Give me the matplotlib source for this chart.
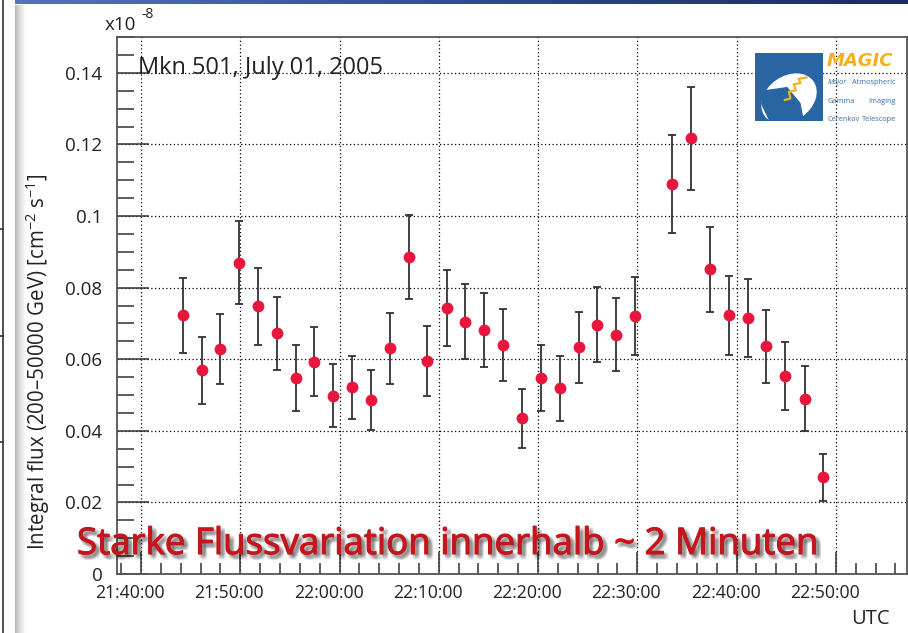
import numpy as np
import pandas as pd
import matplotlib
matplotlib.use("Agg")
import matplotlib.pyplot as plt
import matplotlib.dates as mdates
import matplotlib.patheffects as pe
import matplotlib.transforms as mtrans
from matplotlib.patches import Rectangle, Ellipse, Polygon
from matplotlib.ticker import MultipleLocator, FuncFormatter

# ---------------- data ----------------
times = ["21:44:12", "21:46:06", "21:47:58", "21:49:54", "21:51:45", "21:53:40",
         "21:55:36", "21:57:27", "21:59:22", "22:01:17", "22:03:12", "22:05:04",
         "22:06:59", "22:08:50", "22:10:48", "22:12:40", "22:14:34", "22:16:30",
         "22:18:24", "22:20:18", "22:22:10", "22:24:05", "22:25:59", "22:27:52",
         "22:29:47", "22:33:30", "22:35:24", "22:37:18", "22:39:12", "22:41:06",
         "22:43:00", "22:44:54", "22:46:54", "22:48:42"]
flux = [0.0723, 0.0569, 0.0628, 0.0869, 0.0748, 0.0672, 0.0547, 0.0593, 0.0498,
        0.0522, 0.0486, 0.0631, 0.0885, 0.0595, 0.0743, 0.0705, 0.0682, 0.0640,
        0.0435, 0.0548, 0.0519, 0.0633, 0.0696, 0.0668, 0.0721, 0.1089, 0.1217,
        0.0851, 0.0723, 0.0714, 0.0636, 0.0554, 0.0490, 0.0270]
flux_err = [0.0105, 0.0093, 0.0097, 0.0116, 0.0107, 0.0103, 0.0093, 0.0097, 0.0088,
            0.0088, 0.0085, 0.0099, 0.0118, 0.0097, 0.0107, 0.0105, 0.0104, 0.0100,
            0.0083, 0.0092, 0.0091, 0.0099, 0.0105, 0.0102, 0.0108, 0.0136, 0.0144,
            0.0119, 0.0110, 0.0109, 0.0102, 0.0095, 0.0091, 0.0066]
title_text = "Mkn 501, July 01, 2005"
banner_text = "Starke Flussvariation innerhalb ~ 2 Minuten"
ylabel_text = "Integral flux (200\u201350000 GeV) [cm$^{-2}$ s$^{-1}$]"
x_start, x_end = "21:37:35", "22:57:10"
logo_lines = [("Major", "Atmospheric"), ("Gamma", "Imaging"), ("Cerenkov", "Telescope")]

# ---------------- style ----------------
plt.rcParams['font.family'] = ['Open Sans', 'DejaVu Sans']
plt.rcParams['mathtext.fontset'] = 'custom'
plt.rcParams['mathtext.rm'] = 'Open Sans'
plt.rcParams['mathtext.it'] = 'Open Sans'

day = "2005-07-01 "
t = pd.to_datetime([day + s for s in times])
xl = pd.to_datetime([day + x_start, day + x_end])

W, H = 908, 633
fig = plt.figure(figsize=(W / 100, H / 100), dpi=100)
fig.patch.set_facecolor("white")

def fx(px):
    return px / W

def fy(py):
    return 1 - py / H

# decorations: top blue bar, left slide edge
bar = fig.add_axes([fx(15), fy(4.5), 1 - fx(15), 4.5 / H])
bar.imshow(np.linspace(0, 1, 256)[None, :], aspect='auto',
           cmap=matplotlib.colors.LinearSegmentedColormap.from_list(
               "b", ["#5574b8", "#2f4d92", "#1b2b5c"]), extent=[0, 1, 0, 1])
bar.axis('off')
shade = fig.add_axes([fx(15), 0, 11 / W, fy(4.5)])
shade.imshow(np.linspace(0, 1, 64)[None, :] ** 0.7, aspect='auto',
             cmap=matplotlib.colors.LinearSegmentedColormap.from_list(
                 "g", ["#b0b0b0", "#ffffff"]), extent=[0, 1, 0, 1])
shade.axis('off')
fig.add_artist(plt.Line2D([fx(3), fx(3)], [0, 1], color="#333333", lw=1.2))
for yy in [229, 336, 442]:
    fig.add_artist(plt.Line2D([0, fx(3)], [fy(yy), fy(yy)], color="#333333", lw=1.2))

# main axes
ax = fig.add_axes([fx(117), fy(574), fx(907) - fx(117), fy(37) - fy(574)])
ax.set_xlim(xl[0], xl[1])
ax.set_ylim(0, 0.15)

ax.errorbar(t, flux, yerr=flux_err, fmt='none', ecolor="#333333",
            elinewidth=1.3, capsize=2.6, capthick=1.3, zorder=3)
ax.plot(t, flux, 'o', color="#e8163c", markersize=8.5, markeredgewidth=0, zorder=4)

ax.xaxis.set_major_locator(mdates.MinuteLocator(byminute=range(0, 60, 10)))
ax.xaxis.set_minor_locator(mdates.MinuteLocator(byminute=range(0, 60, 2)))
ax.xaxis.set_major_formatter(mdates.DateFormatter("%H:%M:%S"))
ax.yaxis.set_major_locator(MultipleLocator(0.02))
ax.yaxis.set_minor_locator(MultipleLocator(0.005))
ax.yaxis.set_major_formatter(FuncFormatter(lambda v, p: "%g" % round(v, 4)))

ax.grid(True, which='major', color='black', linestyle=(0, (1, 2)), linewidth=0.9)
ax.set_axisbelow(True)
ax.tick_params(axis='both', which='major', direction='in', width=1.1,
               color="#333333", top=False, right=False)
ax.tick_params(axis='both', which='minor', direction='in', width=1.1,
               color="#333333", top=False, right=False)
ax.tick_params(axis='x', which='major', length=16)
ax.tick_params(axis='x', which='minor', length=8)
ax.tick_params(axis='y', which='major', length=23)
ax.tick_params(axis='y', which='minor', length=12)
ax.tick_params(axis='x', labelsize=12.7, pad=7, colors="#222222")
ax.tick_params(axis='y', labelsize=13.5, pad=10.5, colors="#222222")
ax.tick_params(axis='both', which='both', color="#333333")
for s in ax.spines.values():
    s.set_color("#555555")
    s.set_linewidth(1.3)

fig.text(fx(38), fy(362), ylabel_text, rotation=90, ha='center', va='center',
         fontsize=14.8, color="#222222")
fig.text(fx(105), fy(25), "x10", ha='left', va='center', fontsize=13.5, color="#222222")
fig.text(fx(142), fy(14), "-8", ha='left', va='center', fontsize=10, color="#222222")
fig.text(fx(138), fy(74), title_text, ha='left', va='baseline', fontsize=17,
         color="#222222")
fig.text(fx(890), fy(624), "UTC", ha='right', va='baseline', fontsize=14.5,
         color="#222222")

# banner with soft shadow
shadow = []
for dx in np.linspace(0.8, 4.0, 5):
    for dy in np.linspace(0.8, 4.0, 5):
        shadow.append(pe.SimplePatchShadow(offset=(dx, -dy), shadow_rgbFace="black",
                                           alpha=0.035))
fig.text(fx(77), fy(554), banner_text, ha='left', va='baseline', fontsize=26.4,
         color="#c4161c",
         path_effects=shadow + [pe.Stroke(linewidth=0.8, foreground="#c4161c"),
                                pe.Normal()], zorder=10)

# MAGIC logo
lg = fig.add_axes([fx(755), fy(121), 68 / W, 68 / H])
lg.set_xlim(0, 1)
lg.set_ylim(0, 1)
lg.axis('off')
lg.add_patch(Rectangle((0, 0), 1, 1, color="#2a65a3"))
lg.add_patch(Ellipse((0.50, 0.33), 0.86, 0.64, angle=35, color="white"))
lg.add_patch(Polygon([[0.12, 0.44], [0.47, 0.49], [0.66, 0.26], [0.71, 0.0],
                      [0.22, 0.0], [0.10, 0.25]], color="#2a65a3"))
zx = [0.44, 0.52, 0.50, 0.60, 0.57, 0.67, 0.64, 0.76]
zy = [0.31, 0.33, 0.43, 0.45, 0.54, 0.56, 0.62, 0.64]
lg.plot(zx, zy, color="#f0b323", lw=1.6, solid_joinstyle='round')
fig.text(fx(827), fy(66), "MAGIC", ha='left', va='baseline', fontsize=13,
         fontweight='bold', fontstyle='oblique', family='DejaVu Sans',
         color="#f5b01e")
for yy, (w1, w2) in zip([84, 103, 121], logo_lines):
    fig.text(fx(828), fy(yy), w1, ha='left', va='baseline', fontsize=5.3,
             color="#3a6fa8", fontstyle='italic' if w1 == "Major" else 'normal')
    fig.text(fx(896), fy(yy), w2, ha='right', va='baseline', fontsize=5.3,
             color="#3a6fa8")

# ROOT-style time labels sit slightly left of their ticks
fig.canvas.draw()
shift = mtrans.ScaledTranslation(-11 / 100, 0, fig.dpi_scale_trans)
for lab in ax.get_xticklabels():
    lab.set_transform(lab.get_transform() + shift)

fig.savefig("out.png", dpi=100)
